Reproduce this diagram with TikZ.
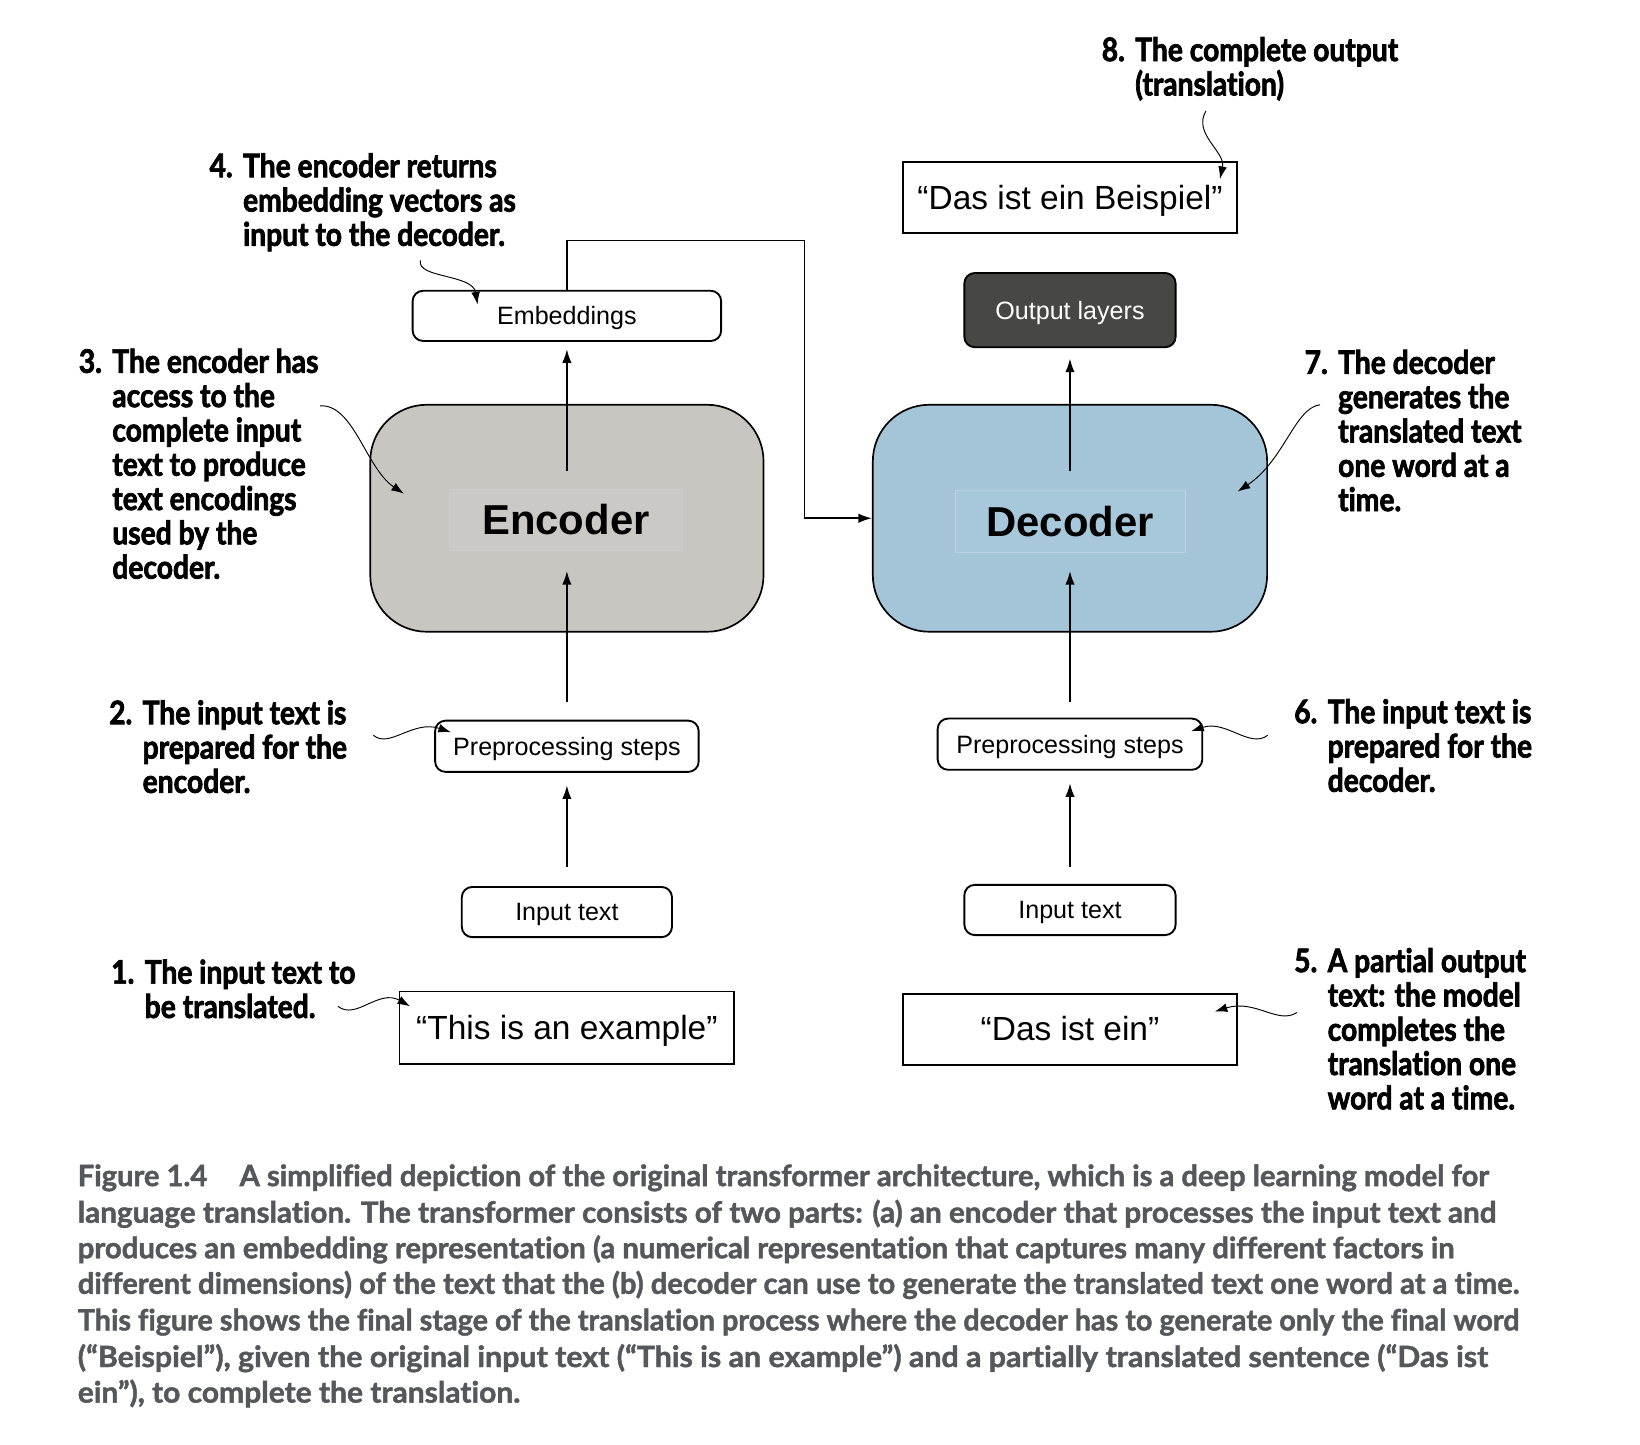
\documentclass[tikz,border=0pt]{standalone}
\usepackage{fontspec}
\usepackage{graphicx}
\setmainfont{Liberation Sans}
\newfontfamily\annfont{Lato}[FakeStretch=0.87, FakeBold=2.2, Ligatures=NoCommon]
\newfontfamily\capfont{Lato}[FakeStretch=0.9, FakeBold=1.4, Ligatures=NoCommon]
\usetikzlibrary{arrows.meta,calc}

\definecolor{encfill}{HTML}{C8C6C1}
\definecolor{encinner}{HTML}{CBC9C5}
\definecolor{encframe}{HTML}{CDCBC7}
\definecolor{decfill}{HTML}{A4C4D8}
\definecolor{decinner}{HTML}{A7C7DB}
\definecolor{decframe}{HTML}{BAD3E3}
\definecolor{outfill}{HTML}{474745}
\definecolor{capgrey}{HTML}{55575A}

\tikzset{
  box/.style={draw=black, line width=0.9pt, rounded corners=5pt, fill=white,
    inner sep=0pt, text height=10pt, text depth=1.5pt, font=\fontsize{12}{14}\selectfont},
  sqbox/.style={draw=black, line width=0.9pt, fill=white, inner sep=0pt,
    text height=13.5pt, text depth=2.5pt, font=\fontsize{16}{19}\selectfont},
  bigbox/.style={draw=black, line width=0.8pt, rounded corners=27pt, inner sep=0pt},
  boxlabel/.style={line width=0.4pt, inner sep=0pt, font=\bfseries\fontsize{20}{24}\selectfont},
  arr/.style={-{Latex[length=6.5pt,width=4.5pt]}, line width=0.75pt},
  callout/.style={-{Latex[length=6pt,width=4.2pt]}, line width=0.45pt},
  note/.style={anchor=north west, align=left, inner sep=0pt,
    font=\annfont\bfseries\fontsize{15.5}{16.4}\selectfont},
  capline/.style={anchor=base west, inner sep=0pt, text=capgrey,
    font=\capfont\bfseries\fontsize{14}{17}\selectfont}
}
\newcommand\num[1]{\makebox[16pt][l]{#1}}
\newcommand\ind{\hspace*{16pt}}

\begin{document}
\begin{tikzpicture}[x=0.5pt,y=-0.5pt]
\fill[white] (0,0) rectangle (1568,1381);
\useasboundingbox (0,0) rectangle (1568,1381);

% ---------- encoder column ----------
\node[box, minimum width=147.5pt, minimum height=24pt] (emb) at (542,302) {Embeddings};
\node[bigbox, fill=encfill, minimum width=188pt, minimum height=108.5pt] (enc) at (542,495.5) {};
\node[boxlabel, draw=encframe, fill=encinner, minimum width=111pt, minimum height=29pt] (enctxt) at (541,497) {Encoder};
\node[box, minimum width=126pt, minimum height=24.5pt] (preL) at (542,713.5) {Preprocessing steps};
\node[box, minimum width=100.5pt, minimum height=24pt] (inL) at (542,872) {Input text};
\node[sqbox, minimum width=160pt, minimum height=34.5pt] (exL) at (542,982.5) {“This is an example”};

% ---------- decoder column ----------
\node[sqbox, minimum width=159.5pt, minimum height=34pt] (beis) at (1023,189) {“Das ist ein Beispiel”};
\node[box, fill=outfill, text=white, minimum width=101pt, minimum height=35.5pt] (outl) at (1023,296.5) {Output layers};
\node[bigbox, fill=decfill, minimum width=188.5pt, minimum height=108.5pt] (dec) at (1023,495.5) {};
\node[boxlabel, draw=decframe, fill=decinner, minimum width=110pt, minimum height=29.5pt] (dectxt) at (1023,498.5) {Decoder};
\node[box, minimum width=126.5pt, minimum height=24.5pt] (preR) at (1023,711.5) {Preprocessing steps};
\node[box, minimum width=101pt, minimum height=24pt] (inR) at (1023,870) {Input text};
\node[sqbox, minimum width=159.5pt, minimum height=34pt] (exR) at (1023,984) {“Das ist ein”};

% ---------- flow arrows ----------
\draw[arr] ($(inL.north)+(0,-18)$) -- ($(preL.south)+(0,12)$);
\draw[arr] ($(preL.north)+(0,-17)$) -- ($(enc.center)+(0,50.5)$);
\draw[arr] ($(enc.center)+(0,-45)$) -- ($(emb.south)+(0,7)$);
\draw[arr] ($(inR.north)+(0,-16)$) -- ($(preR.south)+(0,12)$);
\draw[arr] ($(preR.north)+(0,-15)$) -- ($(dec.center)+(0,50.5)$);
\draw[arr] ($(dec.center)+(0,-45)$) -- ($(outl.south)+(0,10)$);
\coordinate (jog) at (769,230);
\draw[arr] (emb.north) |- (jog) |- (dec.west);

% ---------- annotations ----------
\node[note] (n8) at (1053,35) {\num{8.}The complete output\\\ind(translation)};
\node[note] (n4) at (200,146) {\num{4.}The encoder returns\\\ind embedding vectors as\\\ind input to the decoder.};
\node[note] (n3) at (75,333) {\num{3.}The encoder has\\\ind access to the\\\ind complete input\\\ind text to produce\\\ind text encodings\\\ind used by the\\\ind decoder.};
\node[note] (n2) at (104,669) {\num{2.}The input text is\\\ind prepared for the\\\ind encoder.};
\node[note] (n1) at (106,917) {\num{1.}The input text to\\\ind be translated.};
\node[note] (n7) at (1247,334) {\num{7.}The decoder\\\ind generates the\\\ind translated text\\\ind one word at a\\\ind time.};
\node[note] (n6) at (1237,668) {\num{6.}The input text is\\\ind prepared for the\\\ind decoder.};
\node[note] (n5) at (1237,906) {\num{5.}A partial output\\\ind text: the model\\\ind completes the\\\ind translation one\\\ind word at a time.};

% ---------- callout curves ----------
\coordinate (c8) at (1153,106);
\coordinate (c4) at (402,249);
\coordinate (c3) at (306,388);
\coordinate (c2) at (357,703);
\coordinate (c1) at (323,962);
\coordinate (c7) at (1262,387);
\coordinate (c6) at (1212,703);
\coordinate (c5) at (1240,968);
\draw[callout] (c8) .. controls (1140,128) and (1172,145) .. ($(beis.north east)+(-17,17)$);
\draw[callout] (c4) .. controls (398,266) and (452,262) .. ($(emb.north west)+(63,14)$);
\draw[callout] (c3) .. controls (338,386) and (350,448) .. ($(enc.west)+(33,-23.5)$);
\draw[callout] (c2) .. controls (372,716) and (395,688) .. ($(preL.north west)+(16,12)$);
\draw[callout] (c1) .. controls (340,976) and (362,945) .. ($(exL.north west)+(11,15)$);
\draw[callout] (c7) .. controls (1238,390) and (1228,440) .. ($(dec.east)+(-29,-25.5)$);
\draw[callout] (c6) .. controls (1195,716) and (1172,688) .. ($(preR.north east)+(-11.5,13)$);
\draw[callout] (c5) .. controls (1222,980) and (1200,955) .. ($(exR.north east)+(-22,18)$);

% ---------- caption ----------
\node[capline] (cap1) at (74,1134) {\resizebox{674.5pt}{\height}{Figure 1.4\hspace{14pt}A simplified depiction of the original transformer architecture, which is a deep learning model for}};
\node[capline] (cap2) at (74,1169) {\resizebox{678pt}{\height}{language translation. The transformer consists of two parts: (a) an encoder that processes the input text and}};
\node[capline] (cap3) at (74,1203) {\resizebox{658pt}{\height}{produces an embedding representation (a numerical representation that captures many different factors in}};
\node[capline] (cap4) at (74,1237) {\resizebox{689pt}{\height}{different dimensions) of the text that the (b) decoder can use to generate the translated text one word at a time.}};
\node[capline] (cap5) at (74,1272) {\resizebox{689pt}{\height}{This figure shows the final stage of the translation process where the decoder has to generate only the final word}};
\node[capline] (cap6) at (74,1307) {\resizebox{674pt}{\height}{(“Beispiel”), given the original input text (“This is an example”) and a partially translated sentence (“Das ist}};
\node[capline] (cap7) at (74,1341) {\resizebox{211.5pt}{\height}{ein”), to complete the translation.}};
\end{tikzpicture}
\end{document}
